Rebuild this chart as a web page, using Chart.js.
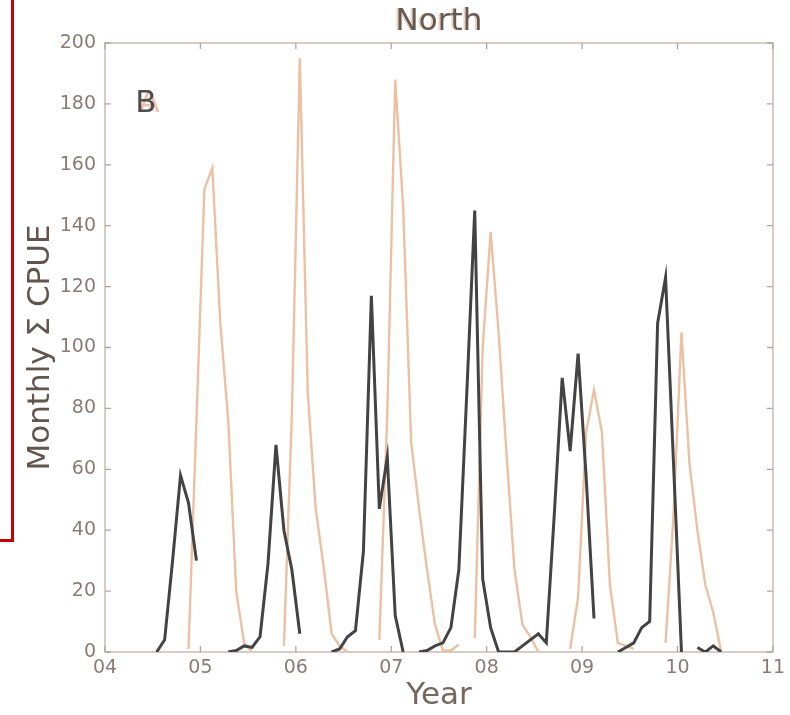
<!DOCTYPE html>
<html lang="en">
<head>
    <meta charset="UTF-8">
    <title>North - Monthly CPUE</title>
    <script src="https://cdn.jsdelivr.net/npm/chart.js"></script>
    <style>
        body { margin: 0; background: #fff; }
        .wrap { position: relative; width: 790px; height: 715px; overflow: hidden; }
        .red-box {
            position: absolute; left: -10px; top: -10px;
            width: 18px; height: 546px;
            border: 3px solid #c40000;
        }
    </style>
</head>
<body>
    <div class="wrap">
        <canvas id="cpueChart" width="790" height="715"></canvas>
        <div class="red-box"></div>
    </div>

    <script>
        // tick labels for the year axis (2004 .. 2011)
        const yearTicks = ['04', '05', '06', '07', '08', '09', '10', '11'];
        const firstYear = 4;

        // monthly values, Jan 2004 .. Dec 2010, null = no data
        const darkSeries = [
            null, null, null, null, null, null, 0, 4, 30, 58, 49, 30,        // 2004
            null, null, null, 0, 0.5, 2, 1.5, 5, 29, 68, 40, 27,             // 2005
            6, null, null, null, 0, 1, 5, 7, 33, 117, 47, 64,                // 2006
            12, 0, null, 0, 0.5, 2, 3, 8, 27, 85, 145, 24,                   // 2007
            8, 0, 0, 0, 2, 4, 6, 3, 45, 90, 66, 98,                          // 2008
            58, 11, null, null, 0, 1.5, 3, 8, 10, 108, 123, 62,              // 2009
            0, null, 1.5, 0, 2, 0, null, null, null, null, null, null        // 2010
        ];
        const lightSeries = [
            null, null, null, null, null, null, null, null, null, null, 1, 76,   // 2004
            152, 159, 108, 76, 20, 3, 0, null, null, null, 2, 78,                // 2005
            195, 85, 47, 28, 6, 2, 0, null, null, null, 4, 78,                   // 2006
            188, 146, 69, 47, 27, 9, 0.5, 0.5, 2.5, null, 4.5, 100,              // 2007
            138, 105, 65, 27, 9, 5, 0, null, null, null, 1, 18,                  // 2008
            72, 86, 72, 22, 3, 2, 1, null, null, null, 3, 45,                    // 2009
            105, 62, 40, 22, 13, 0, null, null, null, null, null, null           // 2010
        ];

        const font = "'DejaVu Sans', 'Liberation Sans', sans-serif";
        const axisColor = '#cdbfb8';
        const tickColor = '#b3a59d';
        const labelColor = '#8a7c75';

        function toPoints(values) {
            return values.map((v, i) => ({ x: firstYear + (i + 0.5) / 12, y: v }));
        }

        // MATLAB style box with inward ticks
        const boxTicks = {
            id: 'boxTicks',
            beforeDatasetsDraw(chart) {
                const { ctx, chartArea: a, scales: { x, y } } = chart;
                ctx.save();
                ctx.strokeStyle = axisColor;
                ctx.lineWidth = 1.6;
                ctx.strokeRect(a.left, a.top, a.right - a.left, a.bottom - a.top);
                ctx.strokeStyle = tickColor;
                ctx.lineWidth = 1.3;
                ctx.beginPath();
                x.ticks.forEach(t => {
                    const px = x.getPixelForValue(t.value);
                    ctx.moveTo(px, a.bottom); ctx.lineTo(px, a.bottom - 6);
                    ctx.moveTo(px, a.top); ctx.lineTo(px, a.top + 6);
                });
                y.ticks.forEach(t => {
                    const py = y.getPixelForValue(t.value);
                    ctx.moveTo(a.left, py); ctx.lineTo(a.left + 6, py);
                    ctx.moveTo(a.right, py); ctx.lineTo(a.right - 6, py);
                });
                ctx.stroke();
                ctx.restore();
            },
            afterDraw(chart) {
                const { ctx, chartArea: a } = chart;
                ctx.save();
                ctx.font = '31px ' + font;
                ctx.textAlign = 'center';
                ctx.textBaseline = 'middle';
                // title with faint ghost
                const cx = (a.left + a.right) / 2;
                ctx.fillStyle = 'rgba(235,190,160,0.7)';
                ctx.fillText('North', cx - 2, 22);
                ctx.fillStyle = '#625a55';
                ctx.fillText('North', cx, 22);
                // panel letter
                ctx.fillStyle = 'rgba(232,180,150,0.8)';
                ctx.fillText('A', a.left + 44, 104);
                ctx.fillStyle = '#4e4e4e';
                ctx.fillText('B', a.left + 41, 104);
                ctx.restore();
            }
        };

        new Chart(document.getElementById('cpueChart'), {
            type: 'line',
            data: {
                datasets: [
                    {
                        label: 'dark',
                        data: toPoints(darkSeries),
                        borderColor: '#434343',
                        borderWidth: 3,
                        pointRadius: 0,
                        tension: 0
                    },
                    {
                        label: 'light',
                        data: toPoints(lightSeries),
                        borderColor: '#ecc0a2',
                        borderWidth: 2.4,
                        pointRadius: 0,
                        tension: 0
                    }
                ]
            },
            options: {
                responsive: false,
                animation: false,
                layout: { padding: { top: 43, right: 16, bottom: 0, left: 0 } },
                plugins: {
                    legend: { display: false },
                    tooltip: { enabled: false }
                },
                scales: {
                    x: {
                        type: 'linear',
                        min: 4,
                        max: 11,
                        afterFit: s => { s.height = 63; },
                        grid: { display: false, drawTicks: false },
                        border: { display: false },
                        ticks: {
                            stepSize: 1,
                            padding: 5,
                            color: labelColor,
                            font: { family: font, size: 19 },
                            callback: v => yearTicks[v - firstYear]
                        },
                        title: {
                            display: true,
                            text: 'Year',
                            color: '#75675f',
                            font: { family: font, size: 31 },
                            padding: { top: 0, bottom: 0 }
                        }
                    },
                    y: {
                        min: 0,
                        max: 200,
                        afterFit: s => { s.width = 105; },
                        grid: { display: false, drawTicks: false },
                        border: { display: false },
                        ticks: {
                            stepSize: 20,
                            padding: 9,
                            color: labelColor,
                            font: { family: font, size: 19 }
                        },
                        title: {
                            display: true,
                            text: 'Monthly Σ CPUE',
                            color: '#62554e',
                            font: { family: font, size: 31 },
                            padding: { top: 22, bottom: 0 }
                        }
                    }
                }
            },
            plugins: [boxTicks]
        });
    </script>
</body>
</html>
